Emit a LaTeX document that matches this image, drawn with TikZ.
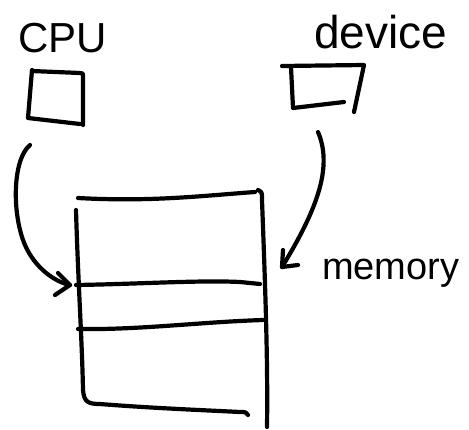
\documentclass[tikz,border=0pt]{standalone}
\usepackage{fontspec}
\setmainfont{Liberation Sans}
\usetikzlibrary{calc}
\begin{document}
\begin{tikzpicture}[x=1pt,y=-1pt,
  pen/.style={line width=4.2pt,line cap=round,line join=round,black},
  lbl/.style={inner sep=0pt,anchor=base west,font=\fontsize{42}{44}\selectfont}]
\useasboundingbox (0,0) rectangle (469,429);

% labels
\node[lbl] (cpu) at (18,52) {CPU};
\node[lbl,font=\fontsize{46}{48}\selectfont] (dev) at (314,48) {device};
\node[lbl,font=\fontsize{38}{40}\selectfont] (mem) at (322,279) {memory};

% the CPU box
\draw[pen] (32,71) -- (80,73) .. controls (83,73) .. (83,77) -- (83,125);
\draw[pen] (32,70) -- (28,118) -- (80,124);

% the device box
\draw[pen] (282,66) -- (364,65) -- (354,112);
\draw[pen] (291,67) -- (293,108) -- (344,102);

% the memory stack
\draw[pen] (78,198) .. controls (150,202) and (200,196) .. (255,192);
\draw[pen] (258,190) .. controls (262,192) .. (262,200)
  .. controls (265,280) and (268,360) .. (267,427);
\draw[pen] (76,210) .. controls (78,280) and (82,340) .. (83,390)
  .. controls (84,402) and (88,404) .. (100,404)
  .. controls (150,408) and (200,410) .. (240,412)
  .. controls (246,412) .. (248,415);
\draw[pen] (76,285) .. controls (140,284) and (200,280) .. (240,282) -- (260,284);
\draw[pen] (78,329) .. controls (140,330) and (200,322) .. (263,320);

% connector ends
\coordinate (cpuout) at (30,145);
\coordinate (slot) at (70,285);
\coordinate (devout) at (318,132);
\coordinate (memside) at (282,267);

% CPU -> memory slot
\draw[pen] (cpuout) .. controls (12,160) and (12,215) .. (25,245)
  .. controls (35,268) and (55,282) .. (slot);
\draw[pen] ($(slot)+(-12,-12)$) -- (slot) -- ($(slot)+(-15,10)$);

% device -> memory
\draw[pen] (devout) .. controls (332,165) and (320,205) .. (memside);
\draw[pen] ($(memside)+(1,-17)$) -- (memside) -- ($(memside)+(16,-2)$);
\end{tikzpicture}
\end{document}
